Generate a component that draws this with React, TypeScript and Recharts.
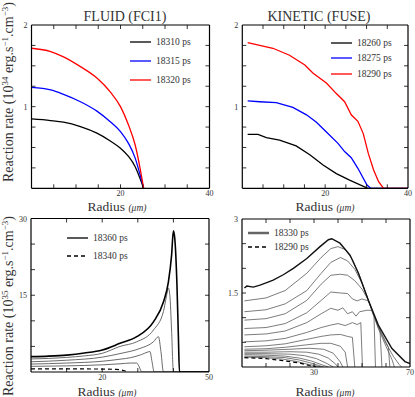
import { LineChart, Line, XAxis, YAxis } from "recharts"

const W = 415
const H = 397
const FONT = "Liberation Serif, serif"

// FLUID (FCI1), 10^34 units
const fluidR = [0, 4.3, 7.2, 11, 14.7, 17.7, 20, 21.8, 23.3, 24.4, 25.2]
const fluid18310 = [0.85, 0.83, 0.81, 0.755, 0.675, 0.58, 0.49, 0.39, 0.265, 0.12, 0]
const fluid18315 = [1.235, 1.205, 1.15, 1.06, 0.945, 0.815, 0.695, 0.55, 0.37, 0.165, 0]
const fluid18320 = [1.715, 1.675, 1.61, 1.49, 1.35, 1.18, 1.0, 0.775, 0.53, 0.245, 0]

// KINETIC (FUSE), 10^34 units
const fuse18260R = [1.3, 3.8, 5.8, 9, 13, 16.3, 19.5, 22.7, 25.9, 30.3, 40]
const fuse18260 = [0.66, 0.66, 0.62, 0.59, 0.52, 0.41, 0.285, 0.18, 0.1, 0, 0]
const fuse18275R = [1.3, 4.2, 8.2, 12.2, 15.5, 17.9, 20.3, 23.1, 24.7, 26.3, 27.9, 30.1, 31, 40]
const fuse18275 = [1.07, 1.06, 1.05, 0.99, 0.9, 0.81, 0.69, 0.55, 0.45, 0.375, 0.245, 0.04, 0, 0]
const fuse18290R = [1.3, 4.2, 7.4, 11.4, 15.1, 17.1, 20.3, 22.7, 24.7, 26.3, 27.9, 29.2, 30.4, 31.7, 32.9, 34.1, 40]
const fuse18290 = [1.785, 1.75, 1.715, 1.63, 1.51, 1.41, 1.29, 1.16, 1.06, 0.9, 0.82, 0.67, 0.43, 0.225, 0.08, 0, 0]

// FLUID, 10^35 units
const fluid18360R = [0, 5, 10, 15, 20, 25, 29.7, 34.4, 37.2, 38.6, 39.5, 40, 40.4, 41, 41.4, 41.7, 50]
const fluid18360 = [3.0, 3.1, 3.3, 3.7, 4.3, 5.6, 6.9, 9.8, 13.7, 17.6, 22.9, 27.6, 26, 17, 7, 0, 0]
const fluid18340R = [0, 10, 20, 24, 26, 27]
const fluid18340 = [0.6, 0.6, 0.58, 0.5, 0.3, 0]
const fluidMidR = [
  [0, 5, 10, 15, 20, 25, 29.7, 34.4, 37.2, 38.1, 38.6, 39.0, 39.5, 40.0, 50],
  [0, 10, 20, 25, 30.6, 34.4, 35.8, 36.5, 37.2, 50],
  [0, 10, 20, 25, 28, 31, 32.8, 33.4, 34, 34.6, 50],
  [0, 10, 20, 25, 28, 29.7, 30.4, 31.1, 50],
]
const fluidMidV = [
  [2.55, 2.65, 2.85, 3.15, 3.65, 5.0, 5.9, 8.2, 11.8, 15.0, 16.4, 15, 8, 0, 0],
  [2.0, 2.3, 2.9, 3.6, 4.6, 5.9, 6.9, 4.0, 0, 0],
  [1.55, 1.75, 2.1, 2.5, 2.8, 3.4, 3.9, 4.0, 2.0, 0, 0],
  [1.1, 1.2, 1.4, 1.6, 1.75, 1.75, 1.0, 0, 0],
]

// KINETIC, 10^35 units
const fuse18330R = [1, 2, 4.7, 7.5, 10.3, 13, 17.2, 21.4, 27, 32.5, 36, 37.4, 40.8, 45, 48.5, 52.6, 56.8, 62.4, 67.9, 70]
const fuse18330 = [1.6, 1.64, 1.62, 1.66, 1.71, 1.76, 1.87, 2.0, 2.2, 2.44, 2.58, 2.6, 2.51, 2.27, 1.9, 1.36, 0.85, 0.38, 0.11, 0.07]
const fuse18290bR = [1, 10, 17, 24, 28, 31]
const fuse18290b = [0.19, 0.17, 0.13, 0.08, 0.03, 0]
const fuseMidR = [
  [1, 10, 18, 27, 33, 37, 40, 43, 46, 49, 52.6, 56.8, 60, 63, 65.5, 66.5],
  [1, 10, 18, 27, 33, 37, 41, 44, 47, 50, 52.6, 56.8, 60, 62.5, 63.5],
  [1, 10, 18, 27, 33, 37, 41, 44, 47, 50, 52.6, 56, 59, 61, 61.6],
  [1, 10, 18, 27, 33, 37, 41, 44, 46, 48, 50, 52.6, 55, 57.5, 58.3],
  [1, 10, 18, 27, 33, 37, 40, 42, 44, 46, 47.5, 49, 52, 54, 55, 55.6],
  [1, 10, 18, 27, 33, 37, 40, 43, 46, 48, 49.5, 50.2],
  [1, 10, 18, 27, 33, 37, 41, 44, 46, 47],
  [1, 10, 18, 27, 33, 37, 41, 43, 44],
  [1, 10, 20, 28, 34, 38, 41, 42],
  [1, 10, 20, 27, 32, 36, 39, 40],
  [1, 10, 20, 26, 31, 35, 38],
  [1, 10, 18, 24, 29, 33, 36],
  [1, 10, 18, 24, 28, 32, 34],
  [1, 10, 17, 23, 27, 31, 33],
]
const fuseMidV = [
  [1.34, 1.4, 1.55, 1.9, 2.22, 2.4, 2.44, 2.38, 2.18, 1.85, 1.36, 0.8, 0.48, 0.22, 0.05, 0],
  [1.12, 1.16, 1.28, 1.55, 1.9, 2.12, 2.22, 2.15, 1.98, 1.7, 1.36, 0.78, 0.42, 0.15, 0],
  [0.95, 0.98, 1.08, 1.35, 1.68, 1.86, 1.88, 1.86, 1.75, 1.58, 1.36, 0.92, 0.6, 0.4, 0],
  [0.78, 0.8, 0.88, 1.1, 1.35, 1.52, 1.5, 1.49, 1.38, 1.34, 1.38, 1.34, 1.05, 0.75, 0],
  [0.65, 0.67, 0.73, 0.9, 1.08, 1.19, 1.15, 1.2, 1.08, 1.12, 1.03, 1.12, 1.15, 1.15, 1.02, 0],
  [0.51, 0.53, 0.58, 0.7, 0.8, 0.85, 0.88, 0.84, 0.9, 0.86, 0.9, 0],
  [0.41, 0.43, 0.47, 0.56, 0.62, 0.65, 0.66, 0.62, 0.6, 0],
  [0.36, 0.37, 0.4, 0.45, 0.48, 0.48, 0.42, 0.3, 0],
  [0.33, 0.34, 0.36, 0.38, 0.36, 0.28, 0.1, 0],
  [0.3, 0.3, 0.31, 0.3, 0.26, 0.18, 0.06, 0],
  [0.27, 0.27, 0.26, 0.23, 0.17, 0.08, 0],
  [0.25, 0.24, 0.22, 0.18, 0.12, 0.05, 0],
  [0.22, 0.21, 0.19, 0.14, 0.09, 0.03, 0],
  [0.2, 0.19, 0.16, 0.11, 0.06, 0.02, 0],
]

const pts = (r: number[], v: number[]) => r.map((x, i) => ({ r: x, v: v[i] }))

type S = { r: number[]; v: number[]; color: string; w: number; dash?: string }

function Panel(props: {
  box: [number, number, number, number]
  xDomain: [number, number]
  xTicks: number[]
  xLabels: number[]
  yDomain: [number, number]
  yTicks: number[]
  yLabels: number[]
  series: S[]
  curve: "monotone" | "linear"
}) {
  const { box, xDomain, xTicks, xLabels, yDomain, yTicks, yLabels, series, curve } = props
  const [l, t, r, b] = box
  const T = 4
  const has = (arr: number[], v: number) => arr.some((a) => Math.abs(a - v) < 1e-6)
  const inX = (v: number) => v > xDomain[0] + 1e-6 && v < xDomain[1] - 1e-6
  const inY = (v: number) => v > yDomain[0] + 1e-6 && v < yDomain[1] - 1e-6

  const tickB = (p: any) => {
    const v = p.payload.value
    return (
      <g>
        {inX(v) && <line x1={p.x} x2={p.x} y1={b} y2={b - T} stroke="#000" strokeWidth={0.8} />}
        {has(xLabels, v) && (
          <text x={p.x} y={b + 8} textAnchor="middle" fontSize={8} fill="#333" fontFamily={FONT}>
            {v}
          </text>
        )}
      </g>
    )
  }
  const tickT = (p: any) => {
    const v = p.payload.value
    return <g>{inX(v) && <line x1={p.x} x2={p.x} y1={t} y2={t + T} stroke="#000" strokeWidth={0.8} />}</g>
  }
  const tickL = (p: any) => {
    const v = p.payload.value
    return (
      <g>
        {inY(v) && <line x1={l} x2={l + T} y1={p.y} y2={p.y} stroke="#000" strokeWidth={0.8} />}
        {has(yLabels, v) && (
          <text x={l - 4} y={p.y + 3} textAnchor="end" fontSize={8} fill="#333" fontFamily={FONT}>
            {v}
          </text>
        )}
      </g>
    )
  }
  const tickR = (p: any) => {
    const v = p.payload.value
    return <g>{inY(v) && <line x1={r} x2={r - T} y1={p.y} y2={p.y} stroke="#000" strokeWidth={0.8} />}</g>
  }
  const ax = { stroke: "#000", strokeWidth: 1.2 }

  // axes are 1px thick (a zero size axis is not drawn), so margins are 1px smaller
  return (
    <div style={{ position: "absolute", left: 0, top: 0 }}>
      <LineChart width={W} height={H} margin={{ top: t - 1, left: l - 1, right: W - r - 1, bottom: H - b - 1 }}>
        <XAxis xAxisId="b" dataKey="r" type="number" domain={xDomain} ticks={xTicks} interval={0} height={1}
          tickSize={0} tickMargin={0} tickLine={false} axisLine={ax} tick={tickB} allowDataOverflow />
        <XAxis xAxisId="t" orientation="top" dataKey="r" type="number" domain={xDomain} ticks={xTicks} interval={0}
          height={1} tickSize={0} tickMargin={0} tickLine={false} axisLine={ax} tick={tickT} allowDataOverflow />
        <YAxis yAxisId="l" type="number" domain={yDomain} ticks={yTicks} interval={0} width={1}
          tickSize={0} tickMargin={0} tickLine={false} axisLine={ax} tick={tickL} allowDataOverflow />
        <YAxis yAxisId="r" orientation="right" type="number" domain={yDomain} ticks={yTicks} interval={0} width={1}
          tickSize={0} tickMargin={0} tickLine={false} axisLine={ax} tick={tickR} allowDataOverflow />
        {series.map((s, i) => (
          <Line key={i} xAxisId="b" yAxisId="l" data={pts(s.r, s.v)} dataKey="v" type={curve}
            stroke={s.color} strokeWidth={s.w} strokeDasharray={s.dash} dot={false} activeDot={false}
            isAnimationActive={false} />
        ))}
      </LineChart>
    </div>
  )
}

const GREY = "#5a5a5a"

function YLabel({ x, y, exp }: { x: number; y: number; exp: string }) {
  return (
    <text transform={`translate(${x},${y}) rotate(-90)`} fontSize={14} fill="#333" fontFamily={FONT}>
      Reaction rate (10
      <tspan dy={-5} fontSize={9}>{exp}</tspan>
      <tspan dy={5}> erg.s</tspan>
      <tspan dy={-5} fontSize={9}>−1</tspan>
      <tspan dy={5}>.cm</tspan>
      <tspan dy={-5} fontSize={9}>−3</tspan>
      <tspan dy={5}>)</tspan>
    </text>
  )
}

function XLabel({ x, y }: { x: number; y: number }) {
  return (
    <text x={x} y={y} textAnchor="middle" fontSize={13.5} fill="#333" fontFamily={FONT}>
      Radius <tspan fontSize={9.5} fontStyle="italic">(μm)</tspan>
    </text>
  )
}

function LegendItem({ x, y, label, color, w, dash }: { x: number; y: number; label: string; color: string; w: number; dash?: string }) {
  return (
    <g>
      <line x1={x} x2={x + 21} y1={y} y2={y} stroke={color} strokeWidth={w} strokeDasharray={dash} />
      <text x={x + 26} y={y + 3} fontSize={9.5} fill="#333" fontFamily={FONT}>{label}</text>
    </g>
  )
}

export default function App() {
  const q = [0, 0.25, 0.5, 0.75, 1, 1.25, 1.5, 1.75, 2]
  const x40 = [0, 5, 10, 15, 20, 25, 30, 35, 40]
  return (
    <div style={{ position: "absolute", left: 0, top: 0, width: W, height: H, background: "#fff", overflow: "hidden" }}>
      <Panel box={[31.5, 25, 209.5, 188.3]} xDomain={[0, 40]} xTicks={x40} xLabels={[20, 40]}
        yDomain={[0, 2]} yTicks={q} yLabels={[1, 2]} curve="monotone"
        series={[
          { r: fluidR, v: fluid18310, color: "#000", w: 1.3 },
          { r: fluidR, v: fluid18315, color: "#0000ff", w: 1.3 },
          { r: fluidR, v: fluid18320, color: "#ff0000", w: 1.3 },
        ]} />
      <Panel box={[242.3, 25, 408, 188.3]} xDomain={[0, 40]} xTicks={x40} xLabels={[20, 40]}
        yDomain={[0, 2]} yTicks={q} yLabels={[1, 2]} curve="linear"
        series={[
          { r: fuse18260R, v: fuse18260, color: "#000", w: 1.3 },
          { r: fuse18275R, v: fuse18275, color: "#0000ff", w: 1.3 },
          { r: fuse18290R, v: fuse18290, color: "#ff0000", w: 1.3 },
        ]} />
      <Panel box={[31, 218.5, 209, 372]} xDomain={[0, 50]} xTicks={[0, 10, 20, 30, 40, 50]} xLabels={[20, 50]}
        yDomain={[0, 30]} yTicks={[0, 5, 10, 15, 20, 25, 30]} yLabels={[15, 30]} curve="monotone"
        series={[
          ...fluidMidR.map((r, i) => ({ r, v: fluidMidV[i], color: GREY, w: 0.9 })),
          { r: fluid18340R, v: fluid18340, color: "#000", w: 1.2, dash: "4 3" },
          { r: fluid18360R, v: fluid18360, color: "#000", w: 1.6 },
        ]} />
      <Panel box={[242, 219, 410, 367]} xDomain={[0, 70]} xTicks={[0, 10, 20, 30, 40, 50, 60, 70]} xLabels={[30, 70]}
        yDomain={[0, 3]} yTicks={[0, 0.5, 1, 1.5, 2, 2.5, 3]} yLabels={[1.5, 3]} curve="linear"
        series={[
          ...fuseMidR.map((r, i) => ({ r, v: fuseMidV[i], color: GREY, w: 0.8 })),
          { r: fuse18290bR, v: fuse18290b, color: "#000", w: 1.2, dash: "4 3" },
          { r: fuse18330R, v: fuse18330, color: "#111", w: 1.4 },
        ]} />
      <svg width={W} height={H} style={{ position: "absolute", left: 0, top: 0 }}>
        <text x={125} y={21} textAnchor="middle" fontSize={14} fill="#333" fontFamily={FONT}>FLUID (FCI1)</text>
        <text x={319} y={21} textAnchor="middle" fontSize={14} fill="#333" fontFamily={FONT}>KINETIC (FUSE)</text>
        <YLabel x={13} y={182} exp="34" />
        <YLabel x={13} y={396} exp="35" />
        <XLabel x={117} y={210.5} />
        <XLabel x={325} y={210.5} />
        <XLabel x={107} y={395.5} />
        <XLabel x={325} y={395.5} />
        <LegendItem x={130} y={42} label="18310 ps" color="#000" w={1.3} />
        <LegendItem x={130} y={61} label="18315 ps" color="#0000ff" w={1.3} />
        <LegendItem x={130} y={80} label="18320 ps" color="#ff0000" w={1.3} />
        <LegendItem x={331} y={43} label="18260 ps" color="#000" w={1.3} />
        <LegendItem x={331} y={58} label="18275 ps" color="#0000ff" w={1.3} />
        <LegendItem x={331} y={74} label="18290 ps" color="#ff0000" w={1.3} />
        <LegendItem x={67} y={238} label="18360 ps" color="#000" w={1.3} />
        <LegendItem x={67} y={256} label="18340 ps" color="#000" w={1.3} dash="4 3" />
        <LegendItem x={248} y={233} label="18330 ps" color="#666" w={2.5} />
        <LegendItem x={248} y={247} label="18290 ps" color="#000" w={1.3} dash="4 3" />
      </svg>
    </div>
  )
}
